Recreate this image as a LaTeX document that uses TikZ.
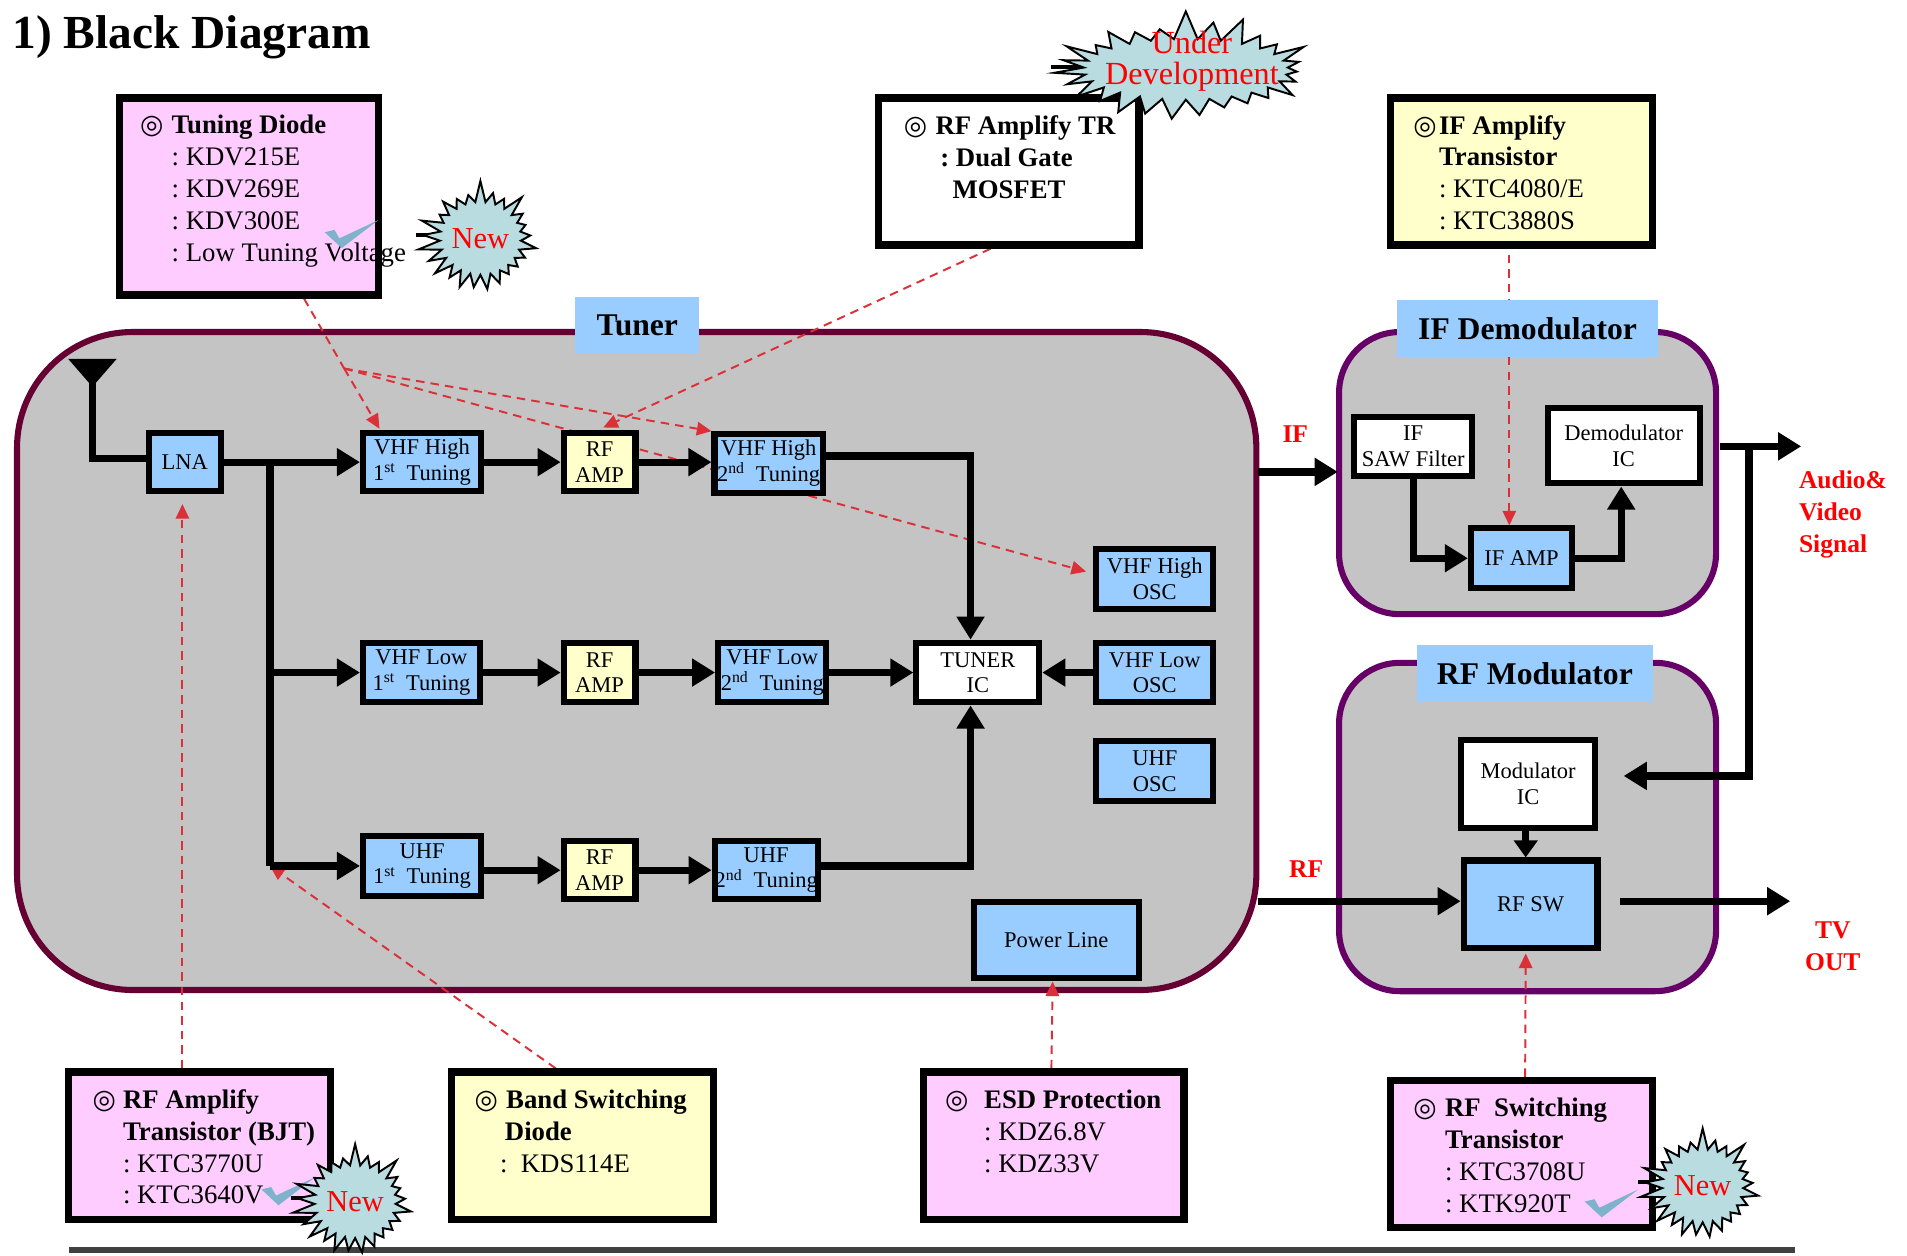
\documentclass[tikz,border=0pt]{standalone}
\usepackage{fontspec}
\setmainfont{Liberation Serif}
\newfontfamily\symfont{DejaVu Sans}
\usepackage{xcolor}
\usetikzlibrary{arrows.meta,shapes.symbols}
\pgfdeclarelayer{back}
\pgfsetlayers{back,main}
\AtBeginDocument{\frenchspacing}
\definecolor{blockblue}{HTML}{99CCFF}
\definecolor{blockyellow}{HTML}{FFFFCC}
\definecolor{infopink}{HTML}{FFCCFF}
\definecolor{panelgray}{HTML}{C4C4C4}
\definecolor{tunerline}{HTML}{660033}
\definecolor{modline}{HTML}{660066}
\definecolor{burstfill}{HTML}{B8DCE0}
\definecolor{checkblue}{HTML}{7FB3CC}
\definecolor{dashred}{HTML}{DC3038}
\newcommand{\mk}[1]{\makebox[#1pt][l]{\symfont ◎}}
\tikzset{
    block/.style={draw, line width=5pt, inner sep=0pt, align=center, font=\fontsize{18.5}{21}\selectfont},
    blue block/.style={block, fill=blockblue},
    yellow block/.style={block, fill=blockyellow},
    white block/.style={block, fill=white},
    info/.style={draw, line width=6pt, inner sep=0pt},
    infotext/.style={anchor=west, inner sep=0pt, align=left, font=\fontsize{22}{26.2}\selectfont},
    panel/.style={draw, line width=5pt, fill=panelgray, inner sep=0pt},
    panel title/.style={fill=blockblue, inner sep=0pt, font=\fontsize{26}{30}\selectfont\bfseries},
    redlabel/.style={text=red, inner sep=0pt, align=center, font=\fontsize{21}{26.2}\selectfont\bfseries},
    burst/.style={starburst, starburst points=25, starburst point height=19pt, random starburst=7, draw, line width=1.6pt, fill=burstfill, inner sep=0pt, text=red, align=center},
    wire/.style={line width=6pt},
    wirearrow/.style={line width=6pt, -{Triangle[length=19pt,width=22pt]}},
    hint/.style={dashred, line width=1.6pt, dash pattern=on 7pt off 5pt, -{Triangle[length=12pt,width=11pt]}},
    hintline/.style={dashred, line width=1.6pt, dash pattern=on 7pt off 5pt}
}
\begin{document}
\begin{tikzpicture}[x=1pt, y=-1pt]
    \useasboundingbox (0,0) rectangle (1568,1032);
    \node [anchor=west, inner sep=0pt, font=\fontsize{39}{44}\selectfont\bfseries] (title) at (10,31) {1) Black Diagram};
    \coordinate (lineleft) at (57,1028);
    \coordinate (lineright) at (1476,1028);
    \draw [line width=5pt, black!75] (lineleft) -- (lineright);

    \begin{pgfonlayer}{back}
    \node [panel, draw=tunerline, rounded corners=95pt, minimum width=1019pt, minimum height=541pt] (tuner) at (523.5,543.5) {};
    \node [panel, draw=modline, rounded corners=50pt, minimum width=310pt, minimum height=232pt] (ifdemod) at (1256,389) {};
    \node [panel, draw=modline, rounded corners=50pt, minimum width=310pt, minimum height=270pt] (rfmod) at (1256,680) {};
    \end{pgfonlayer}
    \node [panel title, minimum width=102pt, minimum height=47pt] (tunertitle) at (524,267.5) {Tuner};
    \node [panel title, minimum width=214pt, minimum height=47pt] (iftitle) at (1256,270) {IF Demodulator};
    \node [panel title, minimum width=194pt, minimum height=47pt] (rftitle) at (1262,554) {RF Modulator};

    \node [blue block, minimum width=59pt, minimum height=48pt] (lna) at (152,380) {LNA};
    \node [blue block, minimum width=97pt, minimum height=48pt] (vhfhighone) at (347,380) {VHF High\\1\textsuperscript{st} ~Tuning};
    \node [yellow block, minimum width=59pt, minimum height=48pt] (rfampone) at (493,380) {RF\\AMP};
    \node [blue block, minimum width=89pt, minimum height=48pt] (vhfhightwo) at (632,381) {VHF High\\2\textsuperscript{nd} ~Tuning};
    \node [blue block, minimum width=96pt, minimum height=48pt] (vhflowone) at (346.5,553) {VHF Low\\1\textsuperscript{st} ~Tuning};
    \node [yellow block, minimum width=59pt, minimum height=48pt] (rfamptwo) at (493,553) {RF\\AMP};
    \node [blue block, minimum width=89pt, minimum height=49pt] (vhflowtwo) at (635,553) {VHF Low\\2\textsuperscript{nd} ~Tuning};
    \node [white block, minimum width=101pt, minimum height=49pt] (tuneric) at (804,553) {TUNER\\IC};
    \node [blue block, minimum width=96pt, minimum height=49pt] (highosc) at (949.5,476) {VHF High\\OSC};
    \node [blue block, minimum width=96pt, minimum height=49pt] (lowosc) at (949.5,553) {VHF Low\\OSC};
    \node [blue block, minimum width=96pt, minimum height=49pt] (uhfosc) at (949.5,634) {UHF\\OSC};
    \node [blue block, minimum width=97pt, minimum height=49pt] (uhfone) at (347,712) {UHF\\1\textsuperscript{st} ~Tuning};
    \node [yellow block, minimum width=59pt, minimum height=48pt] (rfampthree) at (493,715.5) {RF\\AMP};
    \node [blue block, minimum width=83pt, minimum height=48pt] (uhftwo) at (630,715.5) {UHF\\2\textsuperscript{nd} ~Tuning};
    \node [blue block, minimum width=136pt, minimum height=63pt] (powerline) at (868.5,773) {Power Line};
    \node [white block, minimum width=97pt, minimum height=49pt] (sawfilter) at (1162,367) {IF\\SAW Filter};
    \node [white block, minimum width=125pt, minimum height=62pt] (demodic) at (1335,366.5) {Demodulator\\IC};
    \node [blue block, minimum width=83pt, minimum height=49pt] (ifamp) at (1251,459) {IF AMP};
    \node [white block, minimum width=110pt, minimum height=72pt] (modic) at (1256.5,644.5) {Modulator\\IC};
    \node [blue block, minimum width=110pt, minimum height=72pt] (rfsw) at (1258.5,743.5) {RF SW};

    \node [info, fill=infopink, minimum width=213pt, minimum height=162pt] (tuningdiode) at (205,161.5) {};
    \node [info, fill=white, minimum width=214pt, minimum height=121pt] (rftr) at (829.5,141) {};
    \node [info, fill=blockyellow, minimum width=215pt, minimum height=121pt] (ifamptr) at (1251,141) {};
    \node [info, fill=infopink, minimum width=215pt, minimum height=121pt] (rfbjt) at (164,942) {};
    \node [info, fill=blockyellow, minimum width=215pt, minimum height=121pt] (bandsw) at (479,942) {};
    \node [info, fill=infopink, minimum width=214pt, minimum height=121pt] (esd) at (866.5,942) {};
    \node [info, fill=infopink, minimum width=215pt, minimum height=121pt] (rfswtr) at (1251,949) {};

    \node [infotext] (tuningtext) at (115,157) {\mk{26}\textbf{Tuning Diode}\\\hspace*{26pt}: KDV215E\\\hspace*{26pt}: KDV269E\\\hspace*{26pt}: KDV300E\\\hspace*{26pt}: Low Tuning Voltage};
    \node [infotext] (rftrtext) at (743,129) {\mk{26}\textbf{RF Amplify TR}\\\hspace*{30pt}\textbf{: Dual Gate}\\\hspace*{40pt}\textbf{MOSFET}};
    \node [infotext] (ifamptext) at (1162,142) {\mk{21}\textbf{IF Amplify}\\\hspace*{21pt}\textbf{Transistor}\\\hspace*{21pt}: KTC4080/E\\\hspace*{21pt}: KTC3880S};
    \node [infotext] (rfbjttext) at (76,943) {\mk{25}\textbf{RF Amplify}\\\hspace*{25pt}\textbf{Transistor (BJT)}\\\hspace*{25pt}: KTC3770U\\\hspace*{25pt}: KTC3640V};
    \node [infotext] (bandtext) at (390,930) {\mk{26}\textbf{Band Switching}\\\hspace*{25pt}\textbf{Diode}\\\hspace*{21pt}:~ KDS114E};
    \node [infotext] (esdtext) at (777,930) {\mk{32}\textbf{ESD Protection}\\\hspace*{32pt}: KDZ6.8V\\\hspace*{32pt}: KDZ33V};
    \node [infotext] (rfswtext) at (1162,950) {\mk{26}\textbf{RF ~Switching}\\\hspace*{26pt}\textbf{Transistor}\\\hspace*{26pt}: KTC3708U\\\hspace*{26pt}: KTK920T};

    \foreach \cx/\cy in {267/181, 215/968, 1303/978}
        \fill [checkblue, shift={(\cx,\cy)}] (0,10) -- (8,8) -- (12,15) -- (44,0) -- (14,23) -- cycle;

    \foreach \cx/\cy/\burstname in {395/196/newa, 292/988/newb, 1400/975/newc} {
        \draw [line width=3pt] (\cx-53,\cy-3) -- (\cx-40,\cy-3);
        \node [burst, minimum width=100pt, minimum height=98pt, font=\fontsize{25}{28}\selectfont] (\burstname) at (\cx,\cy) {New};
    }
    \draw [line width=3pt] (864,55) -- (905,55);
    \node [burst, starburst points=27, starburst point height=25pt, minimum width=218pt, minimum height=100pt] (underdev) at (975,57) {};
    \node [text=red, inner sep=0pt, align=center, font=\fontsize{26.5}{25.5}\selectfont] (underdevtext) at (980,50) {Under\\Development};

    \node [redlabel] (iflabel) at (1065,357) {IF};
    \node [redlabel] (rflabel) at (1074,715) {RF};
    \node [redlabel, align=left, anchor=west] (audiolabel) at (1479,423) {Audio\&\\Video\\Signal};
    \node [redlabel] (tvlabel) at (1507,778) {TV\\OUT};

    \coordinate (antenna) at (76,318);
    \fill (56,295) -- (96,295) -- (antenna) -- cycle;
    \draw [wire] (76,300) -- (76,377) -- ([yshift=3pt]lna.west);
    \coordinate (lnabranch) at (222,380);
    \coordinate (lowbranch) at (222,553);
    \coordinate (uhfbranch) at (222,712);
    \draw [wirearrow] (lna.east) -- (vhfhighone.west);
    \draw [wire] (lnabranch) -- (uhfbranch);
    \draw [wirearrow] (lowbranch) -- (vhflowone.west);
    \draw [wirearrow] (uhfbranch) -- (uhfone.west);
    \draw [wirearrow] (vhfhighone.east) -- (rfampone.west);
    \draw [wirearrow] (rfampone.east) -- (vhfhightwo.west |- rfampone.east);
    \draw [wirearrow] ([yshift=6pt]vhfhightwo.east) -| ([xshift=-6pt]tuneric.north);
    \draw [wirearrow] (vhflowone.east) -- (rfamptwo.west);
    \draw [wirearrow] (rfamptwo.east) -- (vhflowtwo.west);
    \draw [wirearrow] (vhflowtwo.east) -- (tuneric.west);
    \draw [wirearrow] (lowosc.west) -- (tuneric.east);
    \draw [wirearrow] ([yshift=-3.5pt]uhfone.east) -- (rfampthree.west);
    \draw [wirearrow] (rfampthree.east) -- (uhftwo.west);
    \draw [wirearrow] ([yshift=3.5pt]uhftwo.east) -| ([xshift=-6pt]tuneric.south);

    \coordinate (ifout) at (1034,388);
    \coordinate (ifin) at (1100,388);
    \coordinate (rfout) at (1034,741);
    \coordinate (audioout) at (1414,367);
    \coordinate (audiotip) at (1481,367);
    \coordinate (audiobranch) at (1438,367);
    \coordinate (modin) at (1335,638);
    \coordinate (tvout) at (1332,741);
    \coordinate (tvtip) at (1472,741);
    \draw [wirearrow] (ifout) -- (ifin);
    \draw [wirearrow] (sawfilter.south) |- (ifamp.west);
    \draw [wirearrow] (ifamp.east) -| ([xshift=-2pt]demodic.south);
    \draw [wirearrow] (audioout) -- (audiotip);
    \draw [wirearrow] (audiobranch) |- (modin);
    \draw [wirearrow] (rfout) -- ([yshift=2.5pt]rfsw.west);
    \draw [wirearrow, -{Triangle[length=14pt,width=19pt]}] ([xshift=-2pt]modic.south) -- ([xshift=-4pt]rfsw.north);
    \draw [wirearrow] (tvout) -- (tvtip);

    \begin{pgfonlayer}{back}
    \coordinate (tunejoin) at (283,303);
    \draw [hintline] ([xshift=45pt]tuningdiode.south) -- (tunejoin);
    \draw [hint] (tunejoin) -- ([xshift=-35pt,yshift=1pt]vhfhighone.north);
    \draw [hint] (tunejoin) -- (vhfhightwo.north west);
    \draw [hint] (tunejoin) -- ([xshift=-6pt,yshift=6pt]highosc.west);
    \draw [hint] ([xshift=-15pt]rftr.south) -- ([xshift=3pt,yshift=2pt]rfampone.north);
    \draw [hint] ([xshift=-10pt,yshift=-5pt]ifamptr.south) -- ([xshift=-10pt]ifamp.north);
    \draw [hint] ([xshift=-14pt]rfbjt.north) -- ([xshift=-2pt,yshift=-8pt]lna.south);
    \draw [hint] ([xshift=-22pt]bandsw.north) -- (uhfbranch);
    \draw [hint] ([xshift=-2pt]esd.north) -- ([xshift=-3pt]powerline.south);
    \draw [hint] ([xshift=3pt]rfswtr.north) -- ([xshift=-4pt,yshift=-2pt]rfsw.south);
    \end{pgfonlayer}
\end{tikzpicture}
\end{document}
